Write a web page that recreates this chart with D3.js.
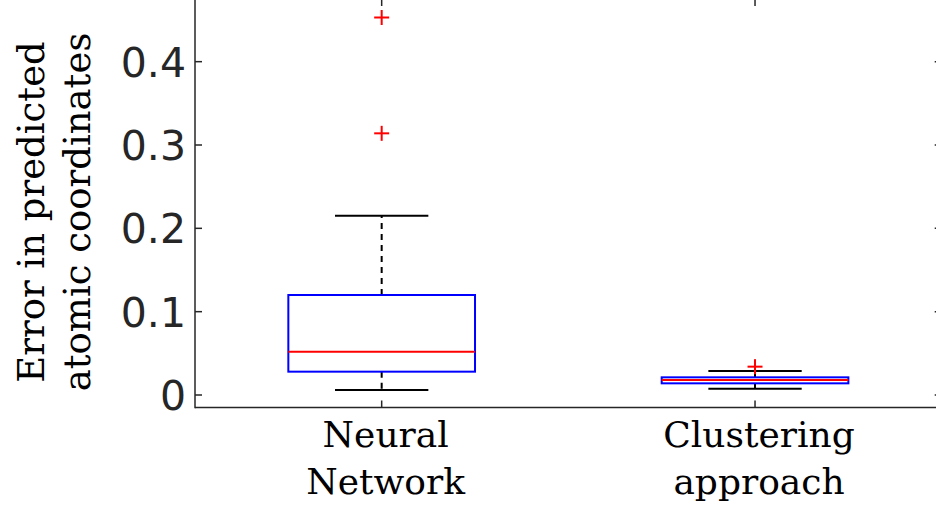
<!DOCTYPE html>
<html>
<head>
<meta charset="utf-8">
<script src="https://cdn.jsdelivr.net/npm/d3@7"></script>
<style>
  html, body { margin: 0; padding: 0; background: #ffffff; }
  svg { display: block; }
</style>
</head>
<body>
<svg id="chart" width="936" height="507"></svg>
<script>
// ---- data ----
const categories = [["Neural", "Network"], ["Clustering", "approach"]];
const lowerWhisker = [0.006, 0.0076];
const q1 = [0.028, 0.014];
const medians = [0.052, 0.018];
const q3 = [0.12, 0.0212];
const upperWhisker = [0.215, 0.0288];
const outliers = [[0.453, 0.314], [0.034]];
const yTicks = [0, 0.1, 0.2, 0.3, 0.4];
const yTickLabels = ["0", "0.1", "0.2", "0.3", "0.4"];
const yLabelLines = ["Error in predicted", "atomic coordinates"];

// ---- layout ----
const svg = d3.select("#chart");
const axisColor = "#262626";
const x = d3.scaleLinear().domain([0.5, 2.5]).range([195, 941.7]);
const y = d3.scaleLinear().domain([-0.015, 0.4752]).range([407.5, -1]);
const pos = categories.map((d, i) => i + 1);
const boxHalf = 0.25, capHalf = 0.125;
const sw = 2;

// ---- axes frame ----
const frame = svg.append("g");
const [x0, x1] = x.range();
const [yb, yt] = y.range();
frame.append("line").attr("x1", x0).attr("x2", x1).attr("y1", yb).attr("y2", yb)
  .attr("stroke", axisColor).attr("stroke-width", 1.5);
frame.append("line").attr("x1", x0).attr("x2", x0).attr("y1", yb + 0.75).attr("y2", yt)
  .attr("stroke", axisColor).attr("stroke-width", 1.5);
frame.append("line").attr("x1", x0).attr("x2", x1).attr("y1", yt).attr("y2", yt)
  .attr("stroke", axisColor).attr("stroke-width", 1.5);
frame.append("line").attr("x1", x1).attr("x2", x1).attr("y1", yb).attr("y2", yt)
  .attr("stroke", axisColor).attr("stroke-width", 1.5);

const tl = 7;
// y ticks (left and right, inward)
yTicks.forEach(t => {
  frame.append("line").attr("x1", x0).attr("x2", x0 + tl).attr("y1", y(t)).attr("y2", y(t))
    .attr("stroke", axisColor).attr("stroke-width", 1.5);
  frame.append("line").attr("x1", x1).attr("x2", x1 - tl).attr("y1", y(t)).attr("y2", y(t))
    .attr("stroke", axisColor).attr("stroke-width", 1.5);
});
// x ticks (bottom and top, inward)
pos.forEach(p => {
  frame.append("line").attr("x1", x(p)).attr("x2", x(p)).attr("y1", yb).attr("y2", yb - tl)
    .attr("stroke", axisColor).attr("stroke-width", 1.5);
  frame.append("line").attr("x1", x(p)).attr("x2", x(p)).attr("y1", yt).attr("y2", yt + tl)
    .attr("stroke", axisColor).attr("stroke-width", 1.5);
});

// y tick labels
svg.append("g").selectAll("text").data(yTicks).join("text")
  .attr("x", 186)
  .attr("y", d => y(d) + 15)
  .attr("text-anchor", "end")
  .attr("font-family", "DejaVu Sans, sans-serif")
  .attr("font-size", 41)
  .attr("fill", axisColor)
  .text((d, i) => yTickLabels[i]);

// x category labels
const xl = svg.append("g");
categories.forEach((lines, i) => {
  lines.forEach((ln, j) => {
    xl.append("text")
      .attr("x", x(pos[i]) + 4)
      .attr("y", 447 + j * 47)
      .attr("text-anchor", "middle")
      .attr("font-family", "DejaVu Serif, serif")
      .attr("font-size", 36)
      .attr("fill", "#000")
      .text(ln);
  });
});

// y axis label
const yl = svg.append("g").attr("transform", "translate(0,212) rotate(-90)");
yLabelLines.forEach((ln, j) => {
  yl.append("text")
    .attr("x", 0)
    .attr("y", 44 + j * 46)
    .attr("text-anchor", "middle")
    .attr("font-family", "DejaVu Serif, serif")
    .attr("font-size", 37)
    .attr("fill", "#000")
    .text(ln);
});

// ---- boxplots ----
const g = svg.append("g");
pos.forEach((p, i) => {
  // whiskers (dashed)
  g.append("line").attr("x1", x(p)).attr("x2", x(p))
    .attr("y1", y(q3[i])).attr("y2", y(upperWhisker[i]))
    .attr("stroke", "#000").attr("stroke-width", sw).attr("stroke-dasharray", "6,5");
  g.append("line").attr("x1", x(p)).attr("x2", x(p))
    .attr("y1", y(q1[i])).attr("y2", y(lowerWhisker[i]))
    .attr("stroke", "#000").attr("stroke-width", sw).attr("stroke-dasharray", "6,5");
  // caps
  [upperWhisker[i], lowerWhisker[i]].forEach(v => {
    g.append("line").attr("x1", x(p - capHalf)).attr("x2", x(p + capHalf))
      .attr("y1", y(v)).attr("y2", y(v))
      .attr("stroke", "#000").attr("stroke-width", sw);
  });
  // box
  g.append("rect")
    .attr("x", x(p - boxHalf)).attr("width", x(p + boxHalf) - x(p - boxHalf))
    .attr("y", y(q3[i])).attr("height", y(q1[i]) - y(q3[i]))
    .attr("fill", "none").attr("stroke", "#0000ff").attr("stroke-width", sw);
  // median
  g.append("line").attr("x1", x(p - boxHalf)).attr("x2", x(p + boxHalf))
    .attr("y1", y(medians[i])).attr("y2", y(medians[i]))
    .attr("stroke", "#ff0000").attr("stroke-width", sw);
  // outliers
  outliers[i].forEach(v => {
    const cx = x(p), cy = y(v), h = 7.5;
    g.append("line").attr("x1", cx - h).attr("x2", cx + h).attr("y1", cy).attr("y2", cy)
      .attr("stroke", "#ff0000").attr("stroke-width", sw);
    g.append("line").attr("x1", cx).attr("x2", cx).attr("y1", cy - h).attr("y2", cy + h)
      .attr("stroke", "#ff0000").attr("stroke-width", sw);
  });
});
</script>
</body>
</html>
